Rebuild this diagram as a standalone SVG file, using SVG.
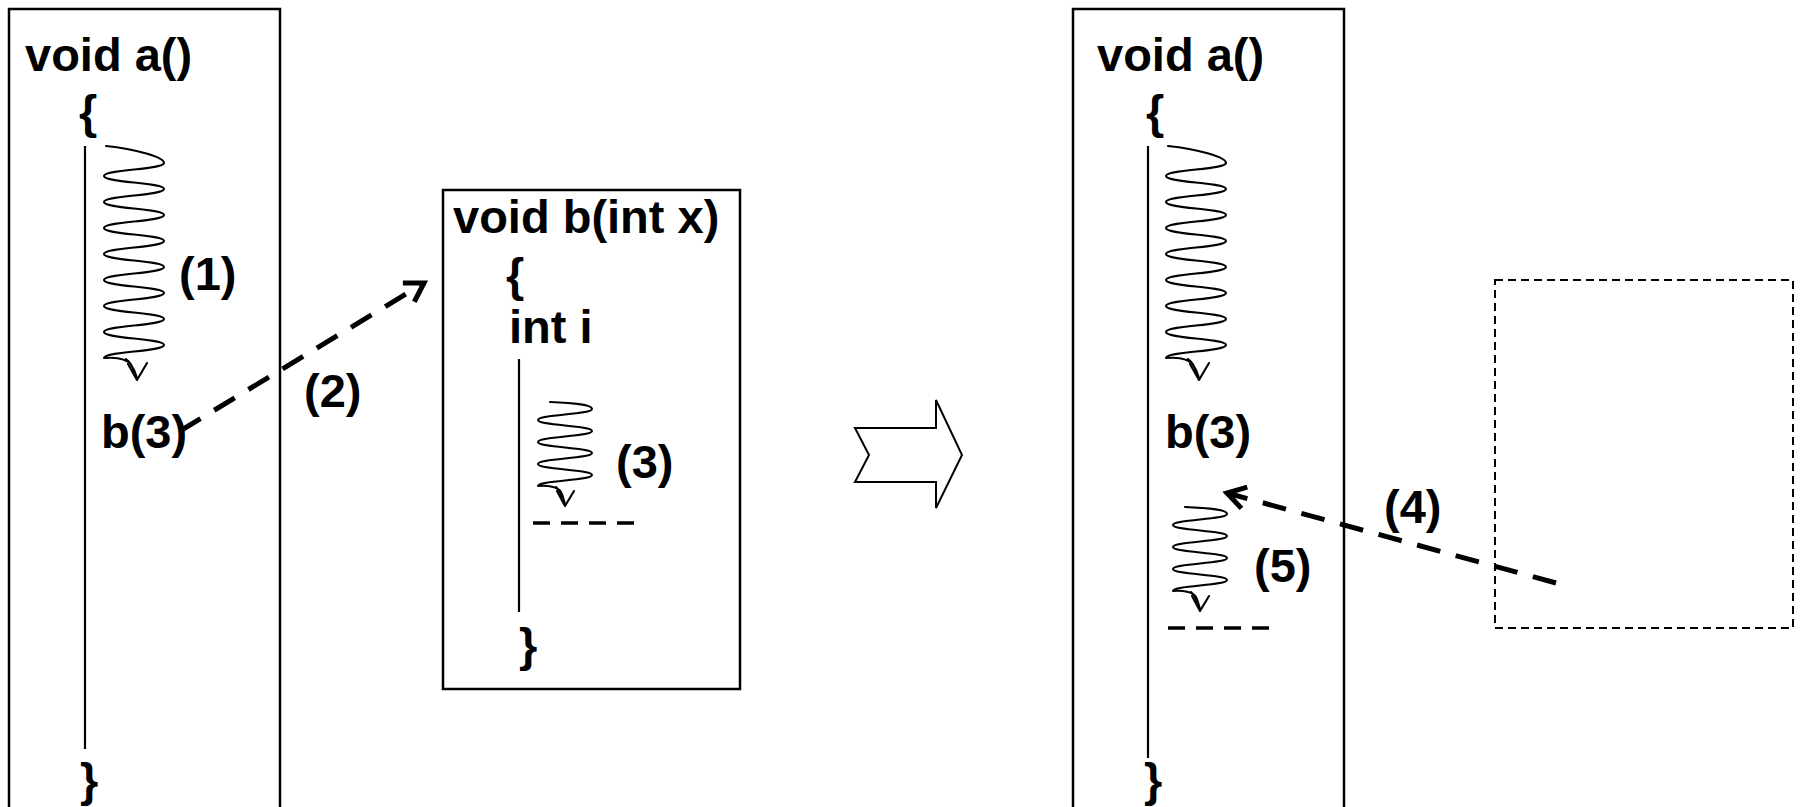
<svg xmlns="http://www.w3.org/2000/svg" xmlns:xlink="http://www.w3.org/1999/xlink" width="1804" height="807" viewBox="0 0 1804 807">
<style>
.t{font-family:"Liberation Sans",Arial,Helvetica,sans-serif;font-weight:bold;font-size:47px;fill:#000}
.box{fill:#fff;stroke:#000;stroke-width:2.5}
.vline{stroke:#000;stroke-width:2.2;fill:none}
.wave{fill:none;stroke:#000;stroke-width:2.1;stroke-linejoin:round;stroke-linecap:round}
.sdash{stroke:#000;stroke-width:3.5;stroke-dasharray:17 11;fill:none}
.conn{fill:none;stroke:#000;stroke-width:5;stroke-dasharray:24 16}
.ph{fill:none;stroke:#000;stroke-width:2;stroke-dasharray:8 5}
</style>
<defs>
<marker id="openV" markerUnits="userSpaceOnUse" markerWidth="44" markerHeight="44" viewBox="-22 -22 44 44" refX="0" refY="0" orient="auto">
<path d="M-18,-11 L0,0 L-18,11" fill="none" stroke="#000" stroke-width="5" stroke-linejoin="miter"/>
</marker>
<g id="longWave">
<path class="wave" d="M2,0 C30,3 60,10.5 60,17 C60,23.5 0,23.5 0,30 C0,36.5 60,36.5 60,43 C60,49.5 0,49.5 0,56 C0,62.5 60,62.5 60,69 C60,75.5 0,75.5 0,82 C0,88.5 60,88.5 60,95 C60,101.5 0,101.5 0,108 C0,114.5 60,114.5 60,121 C60,127.5 0,127.5 0,134 C0,140.5 60,140.5 60,147 C60,153.5 0,153.5 0,160 C0,166.5 60,166.5 60,173 C60,179.5 0,179.5 0,186 C0,192.5 60,192.5 60,199 C60,205.5 0,205.5 0,212 C12,211 23,213 27,219 C30,223 32,228 33,232 M22,213 C26,216 29,221 30,226"/>
<path class="wave" d="M24,218 L33,234 L43,217"/>
</g>
<g id="shortWave">
<path class="wave" d="M12,0 C34,1 54,2 54,7 C54,12.5 0,12.5 0,18 C0,23.5 54,23.5 54,29 C54,34.5 0,34.5 0,40 C0,45.5 54,45.5 54,51 C54,56.5 0,56.5 0,62 C0,67.5 54,67.5 54,73 C54,78.5 0,78.5 0,84 C10,83 20,85 23,90 C25,94 26,99 27,102 M18,85 C21,88 23,91 24,95"/>
<path class="wave" d="M19,89 L27,104 L36,89"/>
<path class="sdash" d="M-5,121 H96"/>
</g>
</defs>
<rect width="1804" height="807" fill="#fff"/>

<g id="func-a-before">
<rect class="box" x="9" y="9" width="271" height="830"/>
<text class="t" x="25" y="71">void a()</text>
<text class="t" x="79" y="128">{</text>
<line class="vline" x1="85" y1="146" x2="85" y2="749"/>
<use xlink:href="#longWave" href="#longWave" transform="translate(104,146)"/>
<text class="t" x="179" y="290">(1)</text>
<text class="t" x="101" y="448">b(3)</text>
<text class="t" x="80" y="796">}</text>
</g>

<g id="func-b">
<rect class="box" x="443" y="190" width="297" height="499"/>
<text class="t" x="453" y="233">void b(int x)</text>
<text class="t" x="506" y="291">{</text>
<text class="t" x="509" y="343">int i</text>
<line class="vline" x1="519" y1="359" x2="519" y2="612"/>
<use xlink:href="#shortWave" href="#shortWave" transform="translate(538,402)"/>
<text class="t" x="616" y="478">(3)</text>
<text class="t" x="519" y="661">}</text>
</g>

<g id="transition-arrow">
<polygon points="855,428 936,428 936,400 962,455 936,508 936,482 855,482 869,455" fill="#fff" stroke="#000" stroke-width="2"/>
</g>

<g id="func-a-after">
<rect class="box" x="1073" y="9" width="271" height="830"/>
<text class="t" x="1097" y="71">void a()</text>
<text class="t" x="1146" y="128">{</text>
<line class="vline" x1="1148" y1="146" x2="1148" y2="758"/>
<use xlink:href="#longWave" href="#longWave" transform="translate(1166,146)"/>
<text class="t" x="1165" y="448">b(3)</text>
<use xlink:href="#shortWave" href="#shortWave" transform="translate(1173,507)"/>
<text class="t" x="1254" y="582">(5)</text>
<text class="t" x="1144" y="796">}</text>
</g>

<g id="returned-frame">
<rect class="ph" x="1495" y="280" width="298" height="348"/>
</g>

<g id="connectors">
<line class="conn" x1="180" y1="431" x2="424" y2="283" marker-end="url(#openV)"/>
<text class="t" x="304" y="407">(2)</text>
<line class="conn" x1="1556" y1="583" x2="1227" y2="493" marker-end="url(#openV)"/>
<text class="t" x="1384" y="523">(4)</text>
</g>
</svg>
